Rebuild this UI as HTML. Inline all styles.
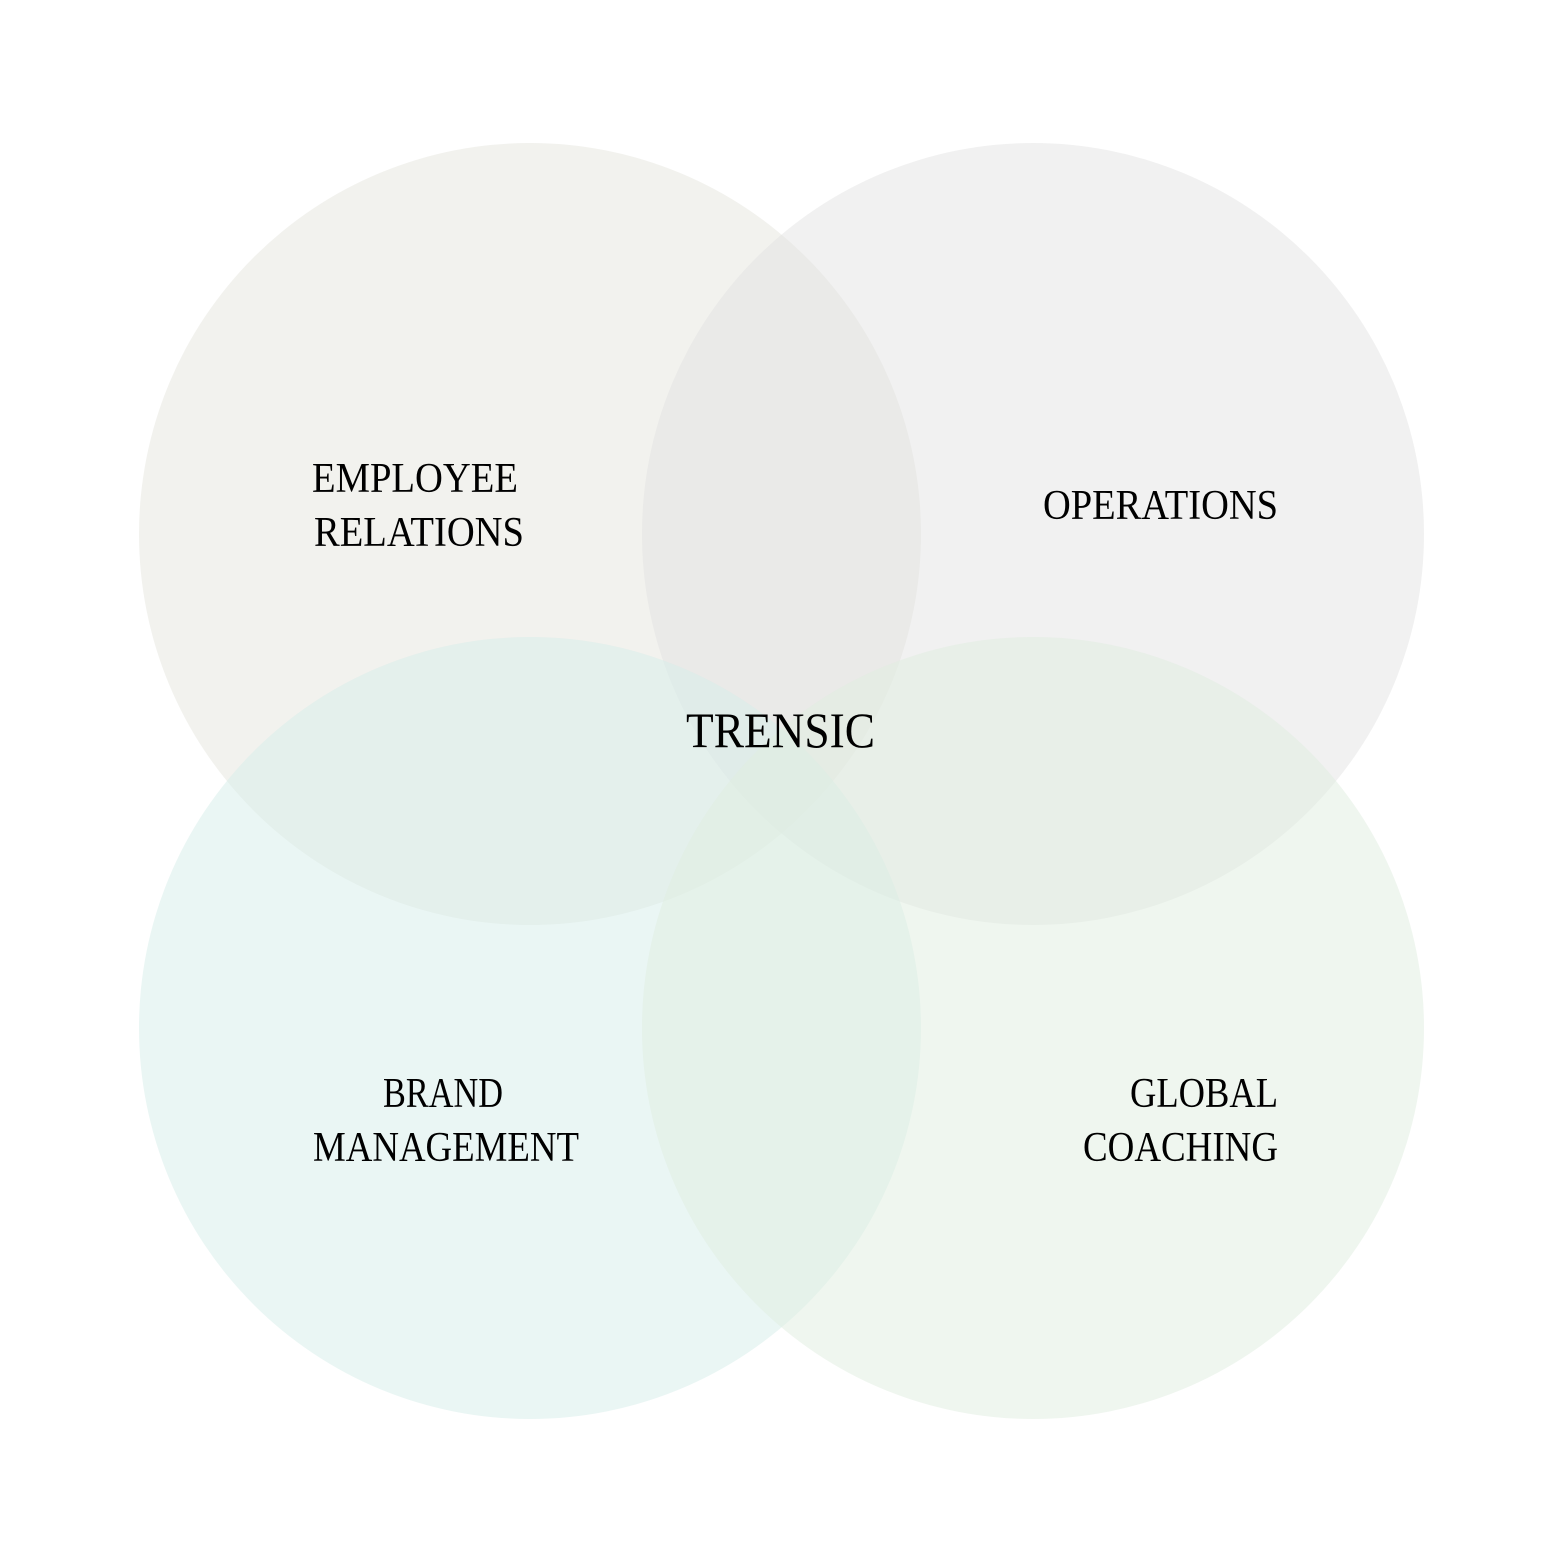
<!DOCTYPE html>
<html><head><meta charset="utf-8"><style>html,body{margin:0;padding:0;background:#fff}</style></head>
<body>
<svg width="1563" height="1563" viewBox="0 0 1563 1563" xmlns="http://www.w3.org/2000/svg">
<rect width="1563" height="1563" fill="#fff"/>
<circle cx="530" cy="534" r="391" fill="#e5e5dd" fill-opacity="0.5"/>
<circle cx="1033" cy="534" r="391" fill="#e1dfe1" fill-opacity="0.45"/>
<circle cx="530" cy="1028" r="391" fill="#d5ede9" fill-opacity="0.5"/>
<circle cx="1033" cy="1028" r="391" fill="#dfeddf" fill-opacity="0.5"/>
<g font-family="Liberation Serif, serif" fill="#000" font-size="42">
<text x="312" y="492" textLength="206" lengthAdjust="spacingAndGlyphs">EMPLOYEE</text>
<text x="314" y="546" textLength="210" lengthAdjust="spacingAndGlyphs">RELATIONS</text>
<text x="1043" y="519" textLength="235" lengthAdjust="spacingAndGlyphs">OPERATIONS</text>
<text x="686" y="747" font-size="50" textLength="189" lengthAdjust="spacingAndGlyphs">TRENSIC</text>
<text x="383" y="1107" textLength="120" lengthAdjust="spacingAndGlyphs">BRAND</text>
<text x="313" y="1161" textLength="266" lengthAdjust="spacingAndGlyphs">MANAGEMENT</text>
<text x="1130" y="1107" textLength="148" lengthAdjust="spacingAndGlyphs">GLOBAL</text>
<text x="1083" y="1161" textLength="195" lengthAdjust="spacingAndGlyphs">COACHING</text>
</g>
</svg>
</body></html>
